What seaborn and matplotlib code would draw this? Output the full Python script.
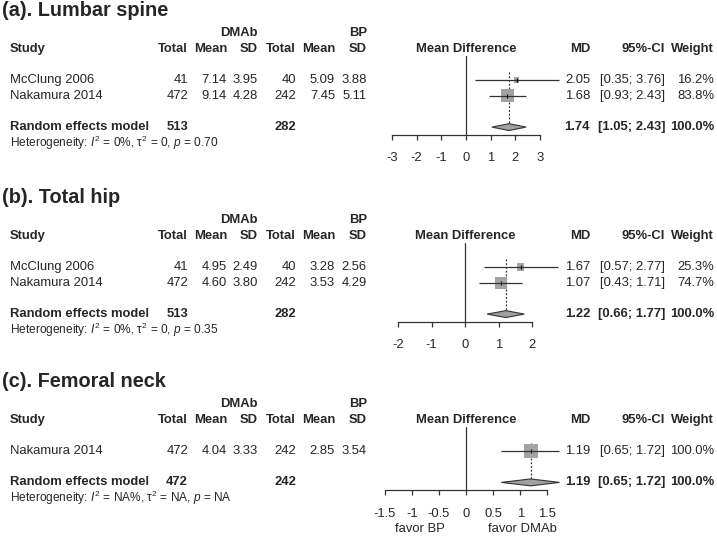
import matplotlib
matplotlib.use("Agg")
import matplotlib.pyplot as plt
import matplotlib.transforms as mtransforms
import seaborn as sns

# (a) Lumbar spine
studies_a = ["McClung 2006", "Nakamura 2014"]
dmab_n_a = [41, 472]
dmab_mean_a = [7.14, 9.14]
dmab_sd_a = [3.95, 4.28]
bp_n_a = [40, 242]
bp_mean_a = [5.09, 7.45]
bp_sd_a = [3.88, 5.11]
md_a = [2.05, 1.68]
lo_a = [0.35, 0.93]
hi_a = [3.76, 2.43]
weight_a = [16.2, 83.8]
pooled_a = [1.74, 1.05, 2.43]
totals_a = [513, 282]
het_a = ["0%", "0", "0.70"]
ticks_a = [-3, -2, -1, 0, 1, 2, 3]

# (b) Total hip
studies_b = ["McClung 2006", "Nakamura 2014"]
dmab_n_b = [41, 472]
dmab_mean_b = [4.95, 4.60]
dmab_sd_b = [2.49, 3.80]
bp_n_b = [40, 242]
bp_mean_b = [3.28, 3.53]
bp_sd_b = [2.56, 4.29]
md_b = [1.67, 1.07]
lo_b = [0.57, 0.43]
hi_b = [2.77, 1.71]
weight_b = [25.3, 74.7]
pooled_b = [1.22, 0.66, 1.77]
totals_b = [513, 282]
het_b = ["0%", "0", "0.35"]
ticks_b = [-2, -1, 0, 1, 2]

# (c) Femoral neck
studies_c = ["Nakamura 2014"]
dmab_n_c = [472]
dmab_mean_c = [4.04]
dmab_sd_c = [3.33]
bp_n_c = [242]
bp_mean_c = [2.85]
bp_sd_c = [3.54]
md_c = [1.19]
lo_c = [0.65]
hi_c = [1.72]
weight_c = [100.0]
pooled_c = [1.19, 0.65, 1.72]
totals_c = [472, 242]
het_c = ["NA%", "NA", "NA"]
ticks_c = [-1.5, -1, -0.5, 0, 0.5, 1, 1.5]

sns.set_style("white")
plt.rcParams["font.family"] = ["Liberation Sans", "DejaVu Sans"]
plt.rcParams["mathtext.fontset"] = "custom"
plt.rcParams["mathtext.rm"] = "Liberation Sans"
plt.rcParams["mathtext.it"] = "Liberation Sans:italic"
plt.rcParams["mathtext.bf"] = "Liberation Sans:bold"
plt.rcParams["axes.unicode_minus"] = False

W, H = 717, 537
ROW = 15.7
FS = 9.4
GREY = "#a3a3a3"
DARK = "#333333"

fig = plt.figure(figsize=(W / 100, H / 100), dpi=100)

# column right edges in pixels
cols = [188, 227, 258, 296, 335, 367]
x_md, x_ci, x_w = 590, 665, 714


def panel(title, studies, dn, dm, dsd, bn, bm, bsd, md, lo, hi, w,
          pooled, totals, het, ticks, y0, zero, scale, favor=False):
    n = len(studies)
    rows = list(range(n))
    srow = n + 1
    arow = n + 1.5
    top = -1.5
    left_px, right_px = 370, 600
    ax = fig.add_axes([left_px / W, 1 - (y0 + arow * ROW) / H,
                       (right_px - left_px) / W, (arow - top) * ROW / H])
    ax.patch.set_alpha(0)

    ax.axvline(0, color=DARK, lw=0.9, zorder=1)
    ax.vlines(pooled[0], -0.5, srow - 0.22, colors=DARK, lw=0.9,
              linestyles=(0, (1.5, 1.5)), zorder=1)
    sizes = [101.6 * v / 100 for v in w]
    sns.scatterplot(x=md, y=rows, marker="s", s=sizes, color=GREY,
                    edgecolor=GREY, linewidth=0, legend=False, ax=ax, zorder=3)
    ax.hlines(rows, lo, hi, colors=DARK, lw=0.9, zorder=4)
    ax.plot(md, rows, ls="none", marker="|", ms=3.5, mew=0.8, color="black", zorder=5)
    ax.fill([pooled[1], pooled[0], pooled[2], pooled[0]],
            [srow, srow - 0.22, srow, srow + 0.22],
            facecolor="#a0a0a0", edgecolor=DARK, lw=0.8, zorder=3)

    ax.set_xlim((left_px - zero) / scale, (right_px - zero) / scale)
    ax.set_ylim(arow, top)
    ax.set_xlabel("")
    ax.set_ylabel("")
    ax.set_yticks([])
    for sp in ["left", "right", "top"]:
        ax.spines[sp].set_visible(False)
    ax.spines["bottom"].set_bounds(ticks[0], ticks[-1])
    ax.spines["bottom"].set_color(DARK)
    ax.spines["bottom"].set_linewidth(0.9)
    ax.set_xticks(ticks)
    ax.set_xticklabels([f"{t:g}" for t in ticks])
    ax.tick_params(axis="x", direction="out", length=3.6, width=0.9,
                   color=DARK, pad=9, labelsize=FS, bottom=True)

    tr = mtransforms.blended_transform_factory(fig.transFigure, ax.transData)

    def t(xpx, row, s, ha="right", bold=False, size=FS):
        ax.text(xpx / W, row, s, transform=tr, ha=ha, va="center",
                fontsize=size, fontweight="bold" if bold else "normal",
                clip_on=False)

    t(2, -4.4, title, ha="left", bold=True, size=14.3)
    t(cols[2], -3, "DMAb", bold=True)
    t(cols[5], -3, "BP", bold=True)
    t(10, -2, "Study", ha="left", bold=True)
    for c, lab in zip(cols, ["Total", "Mean", "SD", "Total", "Mean", "SD"]):
        t(c, -2, lab, bold=True)
    ax.text(0, -2, "Mean Difference", ha="center", va="center",
            fontsize=FS, fontweight="bold", clip_on=False)
    t(x_md, -2, "MD", bold=True)
    t(x_ci, -2, "95%-CI", bold=True)
    t(x_w, -2, "Weight", bold=True)

    for i in range(n):
        t(10, i, studies[i], ha="left")
        vals = [f"{dn[i]}", f"{dm[i]:.2f}", f"{dsd[i]:.2f}",
                f"{bn[i]}", f"{bm[i]:.2f}", f"{bsd[i]:.2f}"]
        for c, v in zip(cols, vals):
            t(c, i, v)
        t(x_md, i, f"{md[i]:.2f}")
        t(x_ci, i, f"[{lo[i]:.2f}; {hi[i]:.2f}]")
        t(x_w, i, f"{w[i]:.1f}%")

    t(10, srow, "Random effects model", ha="left", bold=True)
    t(cols[0], srow, f"{totals[0]}", bold=True)
    t(cols[3], srow, f"{totals[1]}", bold=True)
    t(x_md, srow, f"{pooled[0]:.2f}", bold=True)
    t(x_ci, srow, f"[{pooled[1]:.2f}; {pooled[2]:.2f}]", bold=True)
    t(x_w, srow, "100.0%", bold=True)
    het_txt = (r"Heterogeneity: $I^2$ = " + het[0] + r", $\mathrm{\tau}^2$ = "
               + het[1] + r", $p$ = " + het[2])
    t(10, srow + 1, het_txt, ha="left", size=8.6)

    if favor:
        ax.text(-0.4, arow + 2.5, "favor BP", ha="right", va="center",
                fontsize=FS, clip_on=False)
        ax.text(0.4, arow + 2.5, "favor DMAb", ha="left", va="center",
                fontsize=FS, clip_on=False)


panel("(a). Lumbar spine", studies_a, dmab_n_a, dmab_mean_a, dmab_sd_a,
      bp_n_a, bp_mean_a, bp_sd_a, md_a, lo_a, hi_a, weight_a,
      pooled_a, totals_a, het_a, ticks_a, y0=80, zero=466, scale=24.7)
panel("(b). Total hip", studies_b, dmab_n_b, dmab_mean_b, dmab_sd_b,
      bp_n_b, bp_mean_b, bp_sd_b, md_b, lo_b, hi_b, weight_b,
      pooled_b, totals_b, het_b, ticks_b, y0=267, zero=465, scale=33.5)
panel("(c). Femoral neck", studies_c, dmab_n_c, dmab_mean_c, dmab_sd_c,
      bp_n_c, bp_mean_c, bp_sd_c, md_c, lo_c, hi_c, weight_c,
      pooled_c, totals_c, het_c, ticks_c, y0=451, zero=466, scale=54.3,
      favor=True)

fig.savefig("out.png", dpi=100)
